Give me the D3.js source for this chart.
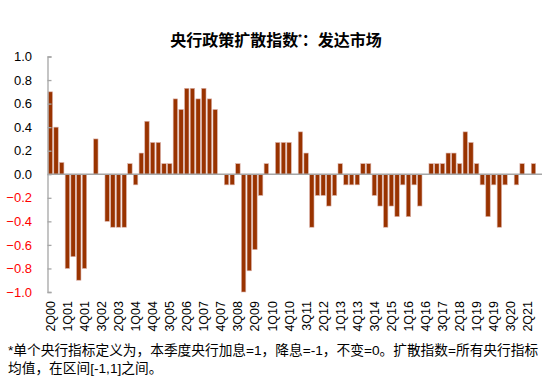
<!DOCTYPE html>
<html><head><meta charset="utf-8">
<script src="https://cdn.jsdelivr.net/npm/d3@7"></script>
<style>
body{margin:0;background:#fff;}
svg{display:block;font-family:"Liberation Sans","Noto Sans CJK SC",Arial,sans-serif;}
</style></head>
<body>
<svg id="c" width="550" height="386"></svg>
<script>
const quarters = ["2Q00","3Q00","4Q00","1Q01","2Q01","3Q01","4Q01","1Q02","2Q02","3Q02","4Q02",
"1Q03","2Q03","3Q03","4Q03","1Q04","2Q04","3Q04","4Q04","1Q05","2Q05","3Q05","4Q05",
"1Q06","2Q06","3Q06","4Q06","1Q07","2Q07","3Q07","4Q07","1Q08","2Q08","3Q08","4Q08",
"1Q09","2Q09","3Q09","4Q09","1Q10","2Q10","3Q10","4Q10","1Q11","2Q11","3Q11","4Q11",
"1Q12","2Q12","3Q12","4Q12","1Q13","2Q13","3Q13","4Q13","1Q14","2Q14","3Q14","4Q14",
"1Q15","2Q15","3Q15","4Q15","1Q16","2Q16","3Q16","4Q16","1Q17","2Q17","3Q17","4Q17",
"1Q18","2Q18","3Q18","4Q18","1Q19","2Q19","3Q19","4Q19","1Q20","2Q20","3Q20","4Q20",
"1Q21","2Q21","3Q21","4Q21"];
const diffusionIndex = [0.7,0.4,0.1,-0.8,-0.7,-0.9,-0.8,0,0.3,0,-0.4,
-0.45,-0.45,-0.45,0.09,-0.09,0.18,0.45,0.27,0.27,0.09,0.09,0.64,
0.55,0.73,0.73,0.64,0.73,0.64,0.55,0,-0.09,-0.09,0.09,-1.0,
-0.82,-0.64,-0.18,0.09,0,0.27,0.27,0.27,0,0.36,0.18,-0.45,
-0.18,-0.18,-0.27,-0.18,0.09,-0.09,-0.09,-0.09,0.09,0.09,-0.18,-0.27,
-0.45,-0.27,-0.36,-0.09,-0.36,-0.09,-0.27,0,0.09,0.09,0.09,0.18,
0.18,0.09,0.36,0.27,0.09,-0.09,-0.36,-0.09,-0.45,-0.09,0,-0.09,
0.09,0,0.09,0];
const xTickLabels = ["2Q00","1Q01","4Q01","3Q02","2Q03","1Q04","4Q04","3Q05","2Q06","1Q07","4Q07",
"3Q08","2Q09","1Q10","4Q10","3Q11","2Q12","1Q13","4Q13","3Q14","2Q15","1Q16","4Q16",
"3Q17","2Q18","1Q19","4Q19","3Q20","2Q21"];
const yTicks = [1.0,0.8,0.6,0.4,0.2,0.0,-0.2,-0.4,-0.6,-0.8,-1.0];
const title = "央行政策扩散指数";
const footnote = ["*单个央行指标定义为，本季度央行加息=1，降息=-1，不变=0。扩散指数=所有央行指标","均值，在区间[-1,1]之间。"];

const svg = d3.select("#c");
const x = d3.scaleBand().domain(quarters).range([47.5, 542]).paddingInner(0.22).paddingOuter(0.11);
const y = d3.scaleLinear().domain([-1, 1]).range([292, 56.5]);

// title
const t = svg.append("text").attr("x", 276).attr("y", 46).attr("text-anchor", "middle")
  .attr("font-size", 16).attr("font-weight", "bold").attr("fill", "#000");
t.append("tspan").text(title);
t.append("tspan").text("*").attr("font-size", 9).attr("dy", -6);
t.append("tspan").text("：发达市场").attr("dy", 6);

// bars
svg.append("g").selectAll("rect").data(diffusionIndex).join("rect")
  .attr("x", (d, i) => x(quarters[i]))
  .attr("width", x.bandwidth())
  .attr("y", d => y(Math.max(0, d)))
  .attr("height", d => Math.abs(y(d) - y(0)))
  .attr("fill", "#993300")
  .attr("stroke", "#dcb4ac").attr("stroke-width", 0.6);

// y axis
const yAxis = d3.axisRight(y).tickValues(yTicks).tickSize(4).tickFormat("");
const ga = svg.append("g").attr("transform", "translate(47.5,0)").call(yAxis);
ga.select(".domain").attr("stroke", "#a6a6a6").attr("stroke-width", 1.3);
ga.selectAll(".tick line").attr("stroke", "#a6a6a6").attr("stroke-width", 1.3);
svg.append("g").selectAll("text").data(yTicks).join("text")
  .attr("x", 32).attr("y", d => y(d)).attr("dy", "0.36em")
  .attr("text-anchor", "end").attr("font-size", 13)
  .attr("fill", d => d < 0 ? "#ff0000" : "#000")
  .text(d => d3.format(".1f")(d));

// zero line
svg.append("line").attr("x1", 47.5).attr("x2", 542).attr("y1", y(0)).attr("y2", y(0))
  .attr("stroke", "#a6a6a6").attr("stroke-width", 1.3);

// x labels
svg.append("g").selectAll("text").data(xTickLabels).join("text")
  .attr("transform", d => `translate(${x(d) + x.bandwidth() / 2},301) rotate(-90)`)
  .attr("dy", "0.36em").attr("text-anchor", "end").attr("font-size", 12.5).attr("fill", "#000")
  .text(d => d);

// footnote
svg.append("g").selectAll("text").data(footnote).join("text")
  .attr("x", 8).attr("y", (d, i) => 355 + i * 18)
  .attr("font-size", 13.7).attr("fill", "#000").text(d => d);
</script>
</body></html>
